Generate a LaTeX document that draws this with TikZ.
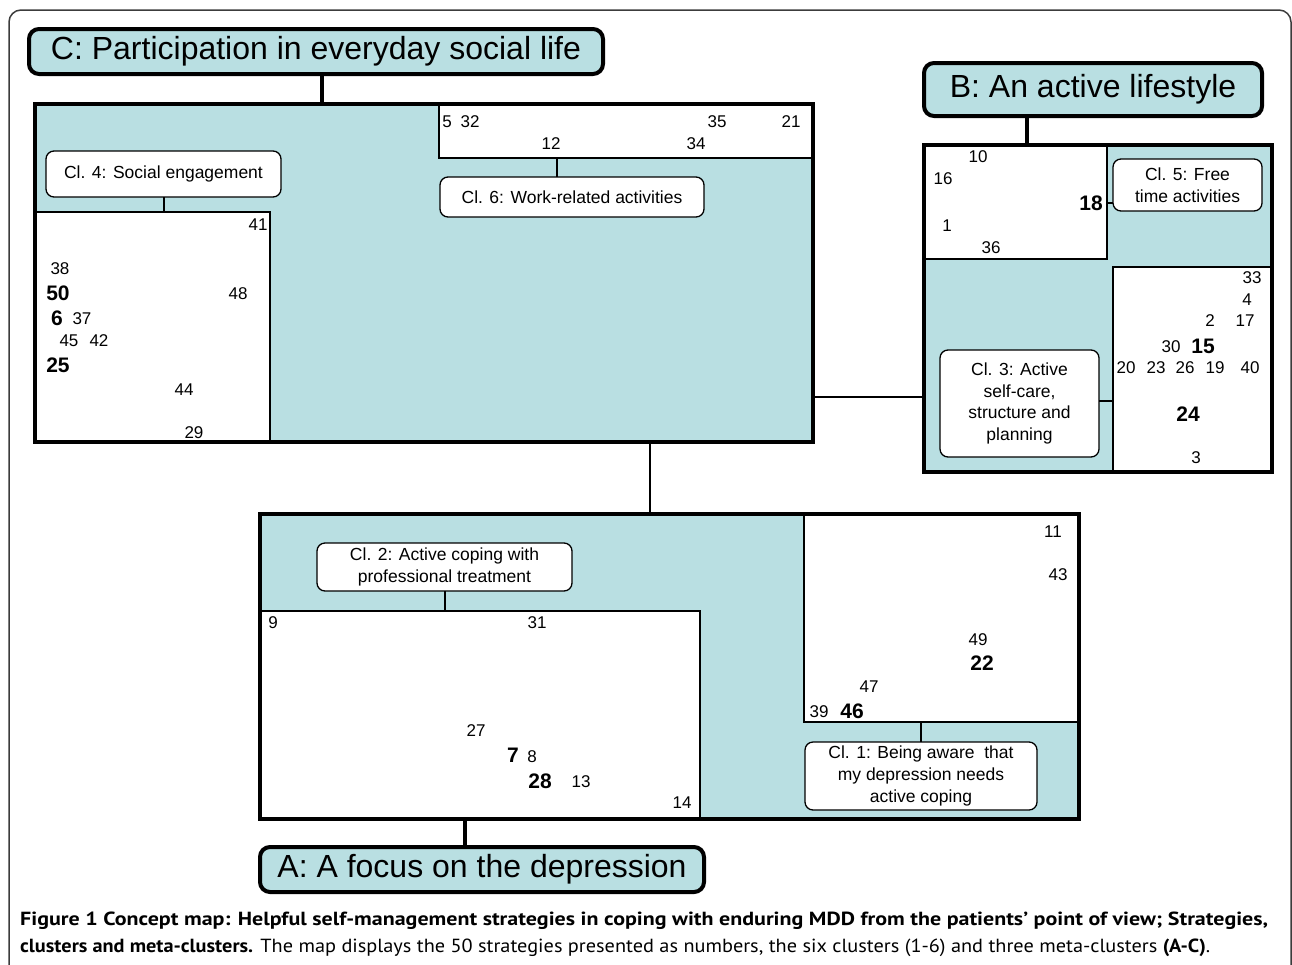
\documentclass[tikz,border=0pt]{standalone}
\usepackage{fontspec}
\setmainfont{Liberation Sans}
\newfontfamily\capfont{PT Sans}
\usepackage{graphicx}
\definecolor{tealfill}{RGB}{185,223,226}
\definecolor{framegray}{RGB}{60,60,60}
\begin{document}
\begin{tikzpicture}[x=1pt,y=-1pt,
  metabox/.style={fill=tealfill, draw=none, rectangle, inner sep=0pt, outer sep=0pt},
  metaborder/.style={draw=black, line width=4pt},
  clbox/.style={draw=black, line width=1.3pt, fill=white, rectangle, inner sep=0pt, outer sep=0pt},
  lbl/.style={draw=black, line width=1.3pt, fill=white, rounded corners=8pt, align=center,
    font=\fontsize{17.5}{21.7}\selectfont, inner sep=0pt, outer sep=0pt},
  titlebox/.style={draw=black, line width=4pt, fill=tealfill, rounded corners=10pt,
    font=\fontsize{32}{38}\selectfont, inner sep=0pt, outer sep=0pt},
  num/.style={font=\fontsize{17}{20}\selectfont, inner sep=0pt},
  bnum/.style={font=\fontsize{21}{24}\selectfont\bfseries, inner sep=0pt},
  conthin/.style={draw=black, line width=1.3pt},
  conthick/.style={draw=black, line width=3.5pt},
]
\useasboundingbox (0,0) rectangle (1292,964);
\fill[white] (0,0) rectangle (1292,964);

% outer frame
\draw[framegray, line width=1.5pt, rounded corners=12pt] (9,970) -- (9,10) -- (1291,10) -- (1291,970);

% ---------- Meta-cluster C ----------
\node[metabox, minimum width=778pt, minimum height=338pt] (bigC) at (424,273) {};
\node[clbox, minimum width=374pt, minimum height=54pt] (cl6box) at (626,131) {};
\node[clbox, minimum width=235pt, minimum height=230pt] (cl4box) at (152.5,327) {};
\draw[metaborder] (bigC.north west) rectangle (bigC.south east);
\node[lbl, minimum width=235pt, minimum height=46pt] (cl4lbl) at (163.5,174) {Cl. 4: Social engagement};
\node[lbl, minimum width=264pt, minimum height=40pt] (cl6lbl) at (572,197) {Cl. 6: Work-related activities};
\node[titlebox, minimum width=574pt, minimum height=45pt] (titleC) at (316,51.5) {C: Participation in everyday social life};

% ---------- Meta-cluster B ----------
\node[metabox, minimum width=348pt, minimum height=327pt] (bigB) at (1098,308.5) {};
\node[clbox, minimum width=183pt, minimum height=114pt] (cl5box) at (1015.5,202) {};
\node[clbox, minimum width=159pt, minimum height=205pt] (cl3box) at (1192.5,369.5) {};
\draw[metaborder] (bigB.north west) rectangle (bigB.south east);
\node[lbl, minimum width=149pt, minimum height=52pt] (cl5lbl) at (1187.5,185) {Cl. 5: Free\\time activities};
\node[lbl, minimum width=159pt, minimum height=107pt] (cl3lbl) at (1019.5,403.5) {Cl. 3: Active\\self-care,\\structure and\\planning};
\node[titlebox, minimum width=338pt, minimum height=53pt] (titleB) at (1093,89.5) {B: An active lifestyle};

% ---------- Meta-cluster A ----------
\node[metabox, minimum width=819pt, minimum height=305pt] (bigA) at (669.5,666.5) {};
\node[clbox, minimum width=440pt, minimum height=208pt] (cl2box) at (480,715) {};
\node[clbox, minimum width=275pt, minimum height=208pt] (cl1box) at (941.5,618) {};
\draw[metaborder] (bigA.north west) rectangle (bigA.south east);
\node[lbl, minimum width=255pt, minimum height=48pt] (cl2lbl) at (444.5,567) {Cl. 2: Active coping with\\professional treatment};
\node[lbl, minimum width=232pt, minimum height=68pt] (cl1lbl) at (921,776) {Cl. 1: Being aware\ \ that\\my depression needs\\active coping};
\node[titlebox, minimum width=444pt, minimum height=45pt] (titleA) at (482,869.5) {A: A focus on the depression};

% ---------- connector guide coordinates ----------
\coordinate (xC) at (322,0);
\coordinate (xB) at (1027,0);
\coordinate (xA) at (465,0);
\coordinate (xCA) at (650,0);
\coordinate (yCB) at (0,397);
\coordinate (x6) at (557,0);
\coordinate (x4) at (164,0);
\coordinate (y5) at (0,203);
\coordinate (y3) at (0,401);
\coordinate (x2) at (445,0);

% ---------- connectors ----------
\draw[conthick] (xC |- titleC.south) -- (xC |- bigC.north);
\draw[conthick] (xB |- titleB.south) -- (xB |- bigB.north);
\draw[conthick] (xA |- bigA.south) -- (xA |- titleA.north);
\draw[conthin] (xCA |- bigC.south) -- (xCA |- bigA.north);
\draw[conthin] (bigC.east |- yCB) -- (bigB.west |- yCB);
\draw[conthin] (x6 |- cl6box.south) -- (x6 |- cl6lbl.north);
\draw[conthin] (x4 |- cl4lbl.south) -- (x4 |- cl4box.north);
\draw[conthin] (cl5box.east |- y5) -- (cl5lbl.west |- y5);
\draw[conthin] (cl3lbl.east |- y3) -- (cl3box.west |- y3);
\draw[conthin] (x2 |- cl2lbl.south) -- (x2 |- cl2box.north);
\draw[conthin] (cl1box.south -| cl1lbl.north) -- (cl1lbl.north);

% ---------- strategy numbers ----------
% cluster 6
\node[num] (n5) at (447,122) {5};
\node[num] (n32) at (470,122) {32};
\node[num] (n35) at (717,122) {35};
\node[num] (n21) at (791,122) {21};
\node[num] (n12) at (551,144) {12};
\node[num] (n34) at (696,144) {34};
% cluster 4
\node[num] (n41) at (258,225) {41};
\node[num] (n38) at (60,269) {38};
\node[bnum] (n50) at (58,293) {50};
\node[num] (n48) at (238,294) {48};
\node[bnum] (n6) at (57,318) {6};
\node[num] (n37) at (82,319) {37};
\node[num] (n45) at (69,341) {45};
\node[num] (n42) at (99,341) {42};
\node[bnum] (n25) at (58,365) {25};
\node[num] (n44) at (184,390) {44};
\node[num] (n29) at (194,433) {29};
% cluster 5
\node[num] (n10) at (978,157) {10};
\node[num] (n16) at (943,179) {16};
\node[bnum] (n18) at (1091,203) {18};
\node[num] (n1) at (947,226) {1};
\node[num] (n36) at (991,248) {36};
% cluster 3
\node[num] (n33) at (1252,278) {33};
\node[num] (n4) at (1247,300) {4};
\node[num] (n2) at (1210,321) {2};
\node[num] (n17) at (1245,321) {17};
\node[num] (n30) at (1171,347) {30};
\node[bnum] (n15) at (1203,346) {15};
\node[num] (n20) at (1126,368) {20};
\node[num] (n23) at (1156,368) {23};
\node[num] (n26) at (1185,368) {26};
\node[num] (n19) at (1215,368) {19};
\node[num] (n40) at (1250,368) {40};
\node[bnum] (n24) at (1188,414) {24};
\node[num] (n3) at (1196,458) {3};
% cluster 2
\node[num] (n9) at (273,623) {9};
\node[num] (n31) at (537,623) {31};
\node[num] (n27) at (476,731) {27};
\node[bnum] (n7) at (513,755) {7};
\node[num] (n8) at (532,757) {8};
\node[bnum] (n28) at (540,781) {28};
\node[num] (n13) at (581,782) {13};
\node[num] (n14) at (682,803) {14};
% cluster 1
\node[num] (n11) at (1053,532) {11};
\node[num] (n43) at (1058,575) {43};
\node[num] (n49) at (978,640) {49};
\node[bnum] (n22) at (982,663) {22};
\node[num] (n47) at (869,687) {47};
\node[num] (n39) at (819,712) {39};
\node[bnum] (n46) at (852,711) {46};

% ---------- caption ----------
\node[anchor=base west, inner sep=0pt] (cap1) at (20,925)
  {\resizebox{1248pt}{\height}{\capfont\fontsize{19}{22}\selectfont\bfseries Figure 1 Concept map: Helpful self-management strategies in coping with enduring MDD from the patients’ point of view; Strategies,}};
\node[anchor=base west, inner sep=0pt] (cap2) at (20,952)
  {\resizebox{1190pt}{\height}{\capfont\fontsize{19}{22}\selectfont{\bfseries clusters and meta-clusters.} The map displays the 50 strategies presented as numbers, the six clusters (1-6) and three meta-clusters {\bfseries (A-C)}.}};
\end{tikzpicture}
\end{document}
